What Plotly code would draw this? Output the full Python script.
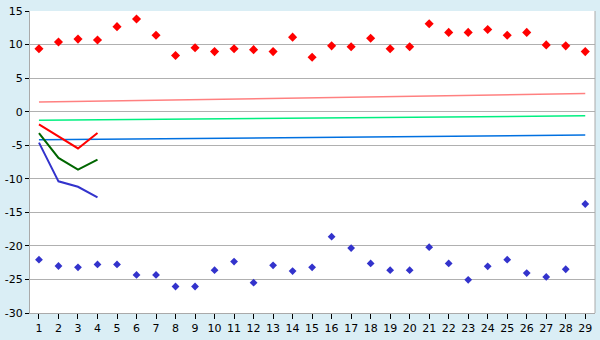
import plotly.graph_objects as go

categories = list(range(1, 30))
red_points = [9.38, 10.38, 10.81, 10.67, 12.67, 13.81, 11.38, 8.38, 9.52, 8.95,
              9.38, 9.24, 8.95, 11.1, 8.1, 9.81, 9.67, 10.95, 9.38, 9.67,
              13.1, 11.81, 11.81, 12.24, 11.38, 11.81, 9.95, 9.81, 8.95]
blue_points = [-22.05, -23.0, -23.19, -22.76, -22.76, -24.33, -24.33, -26.05, -26.05, -23.62,
               -22.33, -25.48, -22.9, -23.76, -23.19, -18.62, -20.33, -22.62, -23.62, -23.62,
               -20.19, -22.62, -25.05, -23.05, -22.05, -24.05, -24.62, -23.48, -13.76]
short_x = [1, 2, 3, 4]
red_line = [-1.9, -3.67, -5.48, -3.19]
green_line = [-3.19, -6.9, -8.62, -7.14]
blue_line = [-4.62, -10.38, -11.19, -12.76]
trend_x = [1, 29]
pink_trend = [1.43, 2.71]
green_trend = [-1.29, -0.62]
blue_trend = [-4.19, -3.48]
y_ticks = [15, 10, 5, 0, -5, -10, -15, -20, -25, -30]
y_labels = ["15", "10", "5", "0", "-5", "-10", "-15", "-20", "-25", "-30"]

fig = go.Figure()
fig.add_trace(go.Scatter(x=trend_x, y=pink_trend, mode="lines", line=dict(color="#FF8080", width=1.5)))
fig.add_trace(go.Scatter(x=trend_x, y=green_trend, mode="lines", line=dict(color="#00F080", width=1.5)))
fig.add_trace(go.Scatter(x=trend_x, y=blue_trend, mode="lines", line=dict(color="#0070E0", width=1.5)))
fig.add_trace(go.Scatter(x=short_x, y=red_line, mode="lines", line=dict(color="#FF0000", width=2)))
fig.add_trace(go.Scatter(x=short_x, y=green_line, mode="lines", line=dict(color="#006600", width=2)))
fig.add_trace(go.Scatter(x=short_x, y=blue_line, mode="lines", line=dict(color="#3333CC", width=2)))
fig.add_trace(go.Scatter(x=categories, y=red_points, mode="markers",
                         marker=dict(symbol="diamond", size=7, color="#FF0000")))
fig.add_trace(go.Scatter(x=categories, y=blue_points, mode="markers",
                         marker=dict(symbol="diamond", size=6, color="#3333CC")))

fig.update_layout(
    width=600, height=340,
    margin=dict(l=27, r=5, t=5, b=20),
    paper_bgcolor="#DAEEF5",
    plot_bgcolor="#FFFFFF",
    showlegend=False,
    font=dict(family="DejaVu Sans", size=11, color="#000000"),
)
fig.update_xaxes(
    range=[0.54, 29.5], tickmode="array", tickvals=categories,
    ticks="outside", ticklen=5, tickcolor="#000000",
    showgrid=False, zeroline=False, ticklabeloverflow="allow",
    showline=True, linecolor="#AAAAAA", linewidth=1, mirror=False,
)
fig.update_yaxes(
    range=[-30, 15], tickmode="array", tickvals=y_ticks, ticktext=y_labels,
    ticks="outside", ticklen=4, tickcolor="#000000", ticklabeloverflow="allow",
    showgrid=True, gridcolor="#B0B0B0", gridwidth=1, zeroline=False,
    showline=True, linecolor="#AAAAAA", linewidth=1,
)
fig.add_shape(type="line", xref="paper", yref="paper", x0=1, x1=1, y0=0, y1=1,
              line=dict(color="#AAAAAA", width=1))

fig.write_html("out.html")
